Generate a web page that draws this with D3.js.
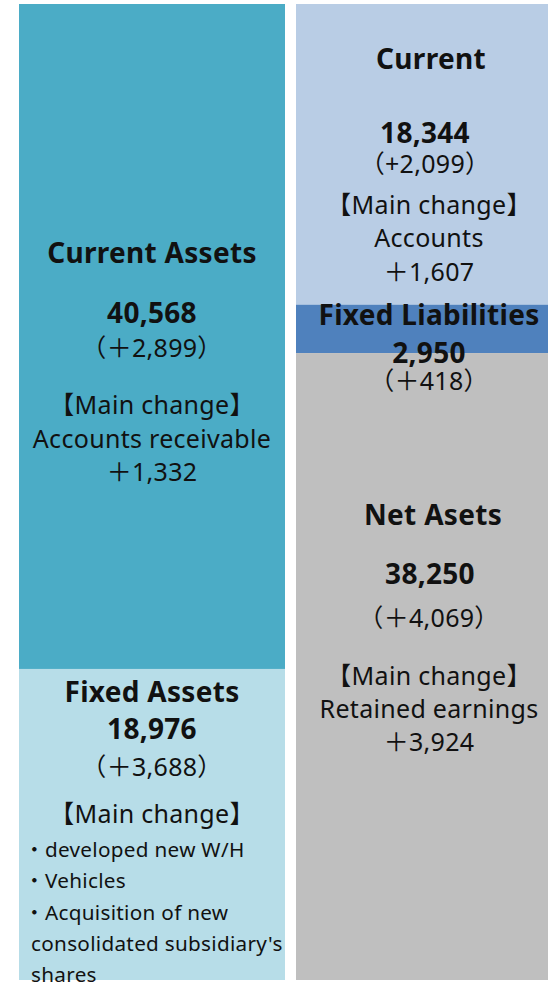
<!DOCTYPE html>
<html lang="en">
<head>
<meta charset="UTF-8">
<title>Balance sheet</title>
<script src="https://cdn.jsdelivr.net/npm/d3@7/dist/d3.min.js"></script>
<style>
  html, body { margin: 0; padding: 0; background: #fff; }
  svg text { font-family: "Noto Sans", "Noto Sans CJK JP", sans-serif; fill: #111; }
</style>
</head>
<body>
<svg id="chart" width="548" height="984"></svg>
<script>
// assets side
var assetNames   = ["Current Assets", "Fixed Assets"];
var assetValues  = [40568, 18976];
var assetChanges = [2899, 3688];
var assetColors  = ["#4bacc6", "#b7dde8"];

// liabilities + net assets side
var liabNames   = ["Current", "Fixed Liabilities", "Net Asets"];
var liabValues  = [18344, 2950, 38250];
var liabChanges = [2099, 418, 4069];
var liabColors  = ["#b9cde5", "#4f81bd", "#bfbfbf"];

// main change notes
var assetNotes = [["Accounts receivable", "＋1,332"],
                  ["・developed new  W/H", "・Vehicles", "・Acquisition of new", "consolidated subsidiary's", "shares"]];
var liabNotes  = [["Accounts", "＋1,607"], [], ["Retained earnings", "＋3,924"]];

var svg = d3.select("#chart");
var total = d3.sum(assetValues);
var y = d3.scaleLinear().domain([0, total]).range([4, 980]);
var fmt = d3.format(",");

var cols = [
  {x0: 19, x1: 285, names: assetNames, values: assetValues, colors: assetColors},
  {x0: 296, x1: 548, names: liabNames, values: liabValues, colors: liabColors}
];

cols.forEach(function(c) {
  var acc = 0;
  c.segs = c.values.map(function(v, i) {
    var s = {name: c.names[i], value: v, y0: acc, y1: acc + v, color: c.colors[i]};
    acc += v;
    return s;
  });
  svg.append("g").selectAll("rect").data(c.segs).enter().append("rect")
    .attr("x", c.x0)
    .attr("width", c.x1 - c.x0)
    .attr("y", function(d) { return y(d.y0); })
    .attr("height", function(d) { return y(d.y1) - y(d.y0); })
    .attr("fill", function(d) { return d.color; });
});

function line(x, yy, txt, size, bold, anchor) {
  svg.append("text")
    .attr("x", x).attr("y", yy)
    .attr("text-anchor", anchor || "middle")
    .style("font-size", size + "px")
    .style("font-weight", bold ? "bold" : "normal")
    .style("letter-spacing", bold ? "0.3px" : "0.3px")
    .text(txt);
}

// text box on the right runs past the page edge, so its centre sits right of the column centre
var cl = (cols[0].x0 + cols[0].x1) / 2, cr = 429;

// Current Assets
line(cl, 263, assetNames[0], 28, true);
line(cl, 323, fmt(assetValues[0]), 28, true);
line(cl, 357, "（＋" + fmt(assetChanges[0]) + "）", 25);
line(cl, 414, "【Main change】", 25);
assetNotes[0].forEach(function(t, i) { line(cl, 448 + i * 33, t, 25); });

// Fixed Assets
line(cl, 702, assetNames[1], 28, true);
line(cl, 739, fmt(assetValues[1]), 28, true);
line(cl, 776, "（＋" + fmt(assetChanges[1]) + "）", 25);
line(cl, 823, "【Main change】", 25);
assetNotes[1].forEach(function(t, i) {
  var bullet = t.charAt(0) === "・";
  line(bullet ? 24 : 31, 857 + i * 31.3, t, 20.7, false, "start");
});

// Current liabilities
line(cr + 2, 69, liabNames[0], 28, true);
line(cr - 4, 143, fmt(liabValues[0]), 28, true);
line(cr - 4, 173, "（+" + fmt(liabChanges[0]) + "）", 25);
line(cr, 214, "【Main change】", 25);
liabNotes[0].forEach(function(t, i) { line(cr, 247 + i * 34, t, 25); });

// Fixed liabilities
line(cr, 325, liabNames[1], 28, true);
line(cr, 363, fmt(liabValues[1]), 28, true);
line(cr, 390, "（＋" + fmt(liabChanges[1]) + "）", 25);

// Net assets
line(cr + 4, 525, liabNames[2], 28, true);
line(cr + 1, 584, fmt(liabValues[2]), 28, true);
line(cr, 627, "（＋" + fmt(liabChanges[2]) + "）", 25);
line(cr, 685, "【Main change】", 25);
liabNotes[2].forEach(function(t, i) { line(cr, 718 + i * 33, t, 25); });
</script>
</body>
</html>
